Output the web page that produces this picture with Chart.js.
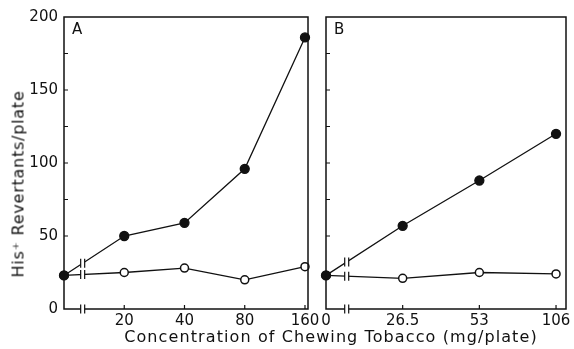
<!DOCTYPE html>
<html>
<head>
<meta charset="utf-8">
<script src="https://cdn.jsdelivr.net/npm/chart.js@4.4.1/dist/chart.umd.min.js"></script>
<style>
    body { margin: 0; background: #fff; }
    #wrap { position: relative; width: 574px; height: 349px; overflow: hidden; font-family: 'DejaVu Sans', sans-serif; color: #111; }
    canvas { position: absolute; left: 0; top: 0; }
    .titulo { position: absolute; white-space: nowrap; font-size: 16px; transform: translate(-50%, -50%); }
</style>
</head>
<body>
<div id="wrap">
    <canvas id="graficoA" width="574" height="349"></canvas>
    <canvas id="graficoB" width="574" height="349"></canvas>
    <div class="titulo" style="left:18px; top:184px; letter-spacing:0.75px; transform:translate(-50%, -50%) rotate(-90deg);">His⁺ Revertants/plate</div>
    <div class="titulo" style="left:331px; top:336px; letter-spacing:1.1px;">Concentration of Chewing Tobacco (mg/plate)</div>
</div>
<script>
// Dados
const dosesA = ['0', '20', '40', '80', '160'];
const tratadoA = [23, 50, 59, 96, 186];
const controleA = [23, 25, 28, 20, 29];

const dosesB = ['0', '26.5', '53', '106'];
const tratadoB = [23, 57, 88, 120];
const controleB = [23, 21, 25, 24];

const ticksY = [0, 50, 100, 150, 200];

const fonte = { family: 'DejaVu Sans', size: 15 };

// Moldura, ticks internos, quebras de eixo e letra do painel
const molduraPlugin = {
    id: 'moldura',
    afterDatasetsDraw(chart, args, opts) {
        const { ctx, chartArea: a } = chart;
        const x = chart.scales.x;
        const y = chart.scales.y;
        ctx.save();
        ctx.strokeStyle = '#111';
        ctx.lineWidth = 1.5;
        ctx.strokeRect(a.left, a.top, a.right - a.left, a.bottom - a.top);

        // ticks para dentro
        ctx.lineWidth = 1.2;
        ctx.beginPath();
        for (let v = 25; v < 200; v += 25) {
            const py = y.getPixelForValue(v);
            ctx.moveTo(a.left, py);
            ctx.lineTo(a.left + 4, py);
        }
        x.ticks.forEach(t => {
            if (t.value === 0) return;
            const px = x.getPixelForValue(t.value);
            ctx.moveTo(px, a.bottom);
            ctx.lineTo(px, a.bottom - 4);
        });
        ctx.stroke();

        // quebras
        const xb = x.getPixelForValue(opts.quebra);
        const meio = 2;
        const alturas = [a.bottom];
        chart.data.datasets.forEach((ds, i) => {
            const pts = chart.getDatasetMeta(i).data;
            const t = (xb - pts[0].x) / (pts[1].x - pts[0].x);
            alturas.push(pts[0].y + t * (pts[1].y - pts[0].y));
        });
        alturas.forEach(yb => {
            ctx.fillStyle = '#fff';
            ctx.fillRect(xb - meio, yb - 3.5, meio * 2, 7);
            ctx.beginPath();
            ctx.moveTo(xb - meio, yb - 4.5);
            ctx.lineTo(xb - meio, yb + 4.5);
            ctx.moveTo(xb + meio, yb - 4.5);
            ctx.lineTo(xb + meio, yb + 4.5);
            ctx.stroke();
        });

        // letra do painel
        ctx.fillStyle = '#111';
        ctx.font = '15px "DejaVu Sans"';
        ctx.textBaseline = 'middle';
        ctx.fillText(opts.letra, a.left + 8, a.top + 13);
        ctx.restore();
    }
};

function criarGrafico(id, doses, tratado, controle, cfg) {
    const ctx = document.getElementById(id).getContext('2d');
    return new Chart(ctx, {
        type: 'line',
        data: {
            datasets: [{
                data: tratado.map((v, i) => ({ x: i, y: v })),
                borderColor: '#111',
                borderWidth: 1.3,
                pointRadius: 4.5,
                pointBackgroundColor: '#111',
                pointBorderColor: '#111',
                clip: false
            }, {
                data: controle.map((v, i) => ({ x: i, y: v })),
                borderColor: '#111',
                borderWidth: 1.3,
                pointRadius: 4,
                pointBorderWidth: 1.5,
                pointBackgroundColor: '#fff',
                pointBorderColor: '#111',
                clip: false
            }]
        },
        options: {
            responsive: false,
            animation: false,
            layout: { padding: { top: 17, left: 0, right: cfg.direita, bottom: 0 } },
            plugins: {
                legend: { display: false },
                tooltip: { enabled: false },
                moldura: { quebra: cfg.quebra, letra: cfg.letra }
            },
            scales: {
                x: {
                    type: 'linear',
                    min: 0,
                    max: cfg.maxX,
                    afterBuildTicks: s => { s.ticks = doses.map((_, i) => ({ value: i })); },
                    afterFit: s => { s.height = 40; },
                    grid: { display: false, drawTicks: false },
                    border: { display: false },
                    ticks: {
                        autoSkip: false,
                        maxRotation: 0,
                        padding: 3,
                        color: '#111',
                        font: fonte,
                        callback: v => (cfg.zeroX || v !== 0) ? doses[v] : ''
                    }
                },
                y: {
                    min: 0,
                    max: 200,
                    afterBuildTicks: s => { s.ticks = ticksY.map(v => ({ value: v })); },
                    afterFit: s => { s.width = cfg.larguraY; },
                    grid: { display: false, drawTicks: false },
                    border: { display: false },
                    ticks: {
                        display: cfg.rotulosY,
                        padding: 6,
                        color: '#111',
                        font: fonte
                    }
                }
            }
        },
        plugins: [molduraPlugin]
    });
}

criarGrafico('graficoA', dosesA, tratadoA, controleA, {
    direita: 266, larguraY: 64, maxX: 4.05, quebra: 0.31, letra: 'A', zeroX: false, rotulosY: true
});
criarGrafico('graficoB', dosesB, tratadoB, controleB, {
    direita: 8, larguraY: 326, maxX: 3.13, quebra: 0.27, letra: 'B', zeroX: true, rotulosY: false
});
</script>
</body>
</html>
